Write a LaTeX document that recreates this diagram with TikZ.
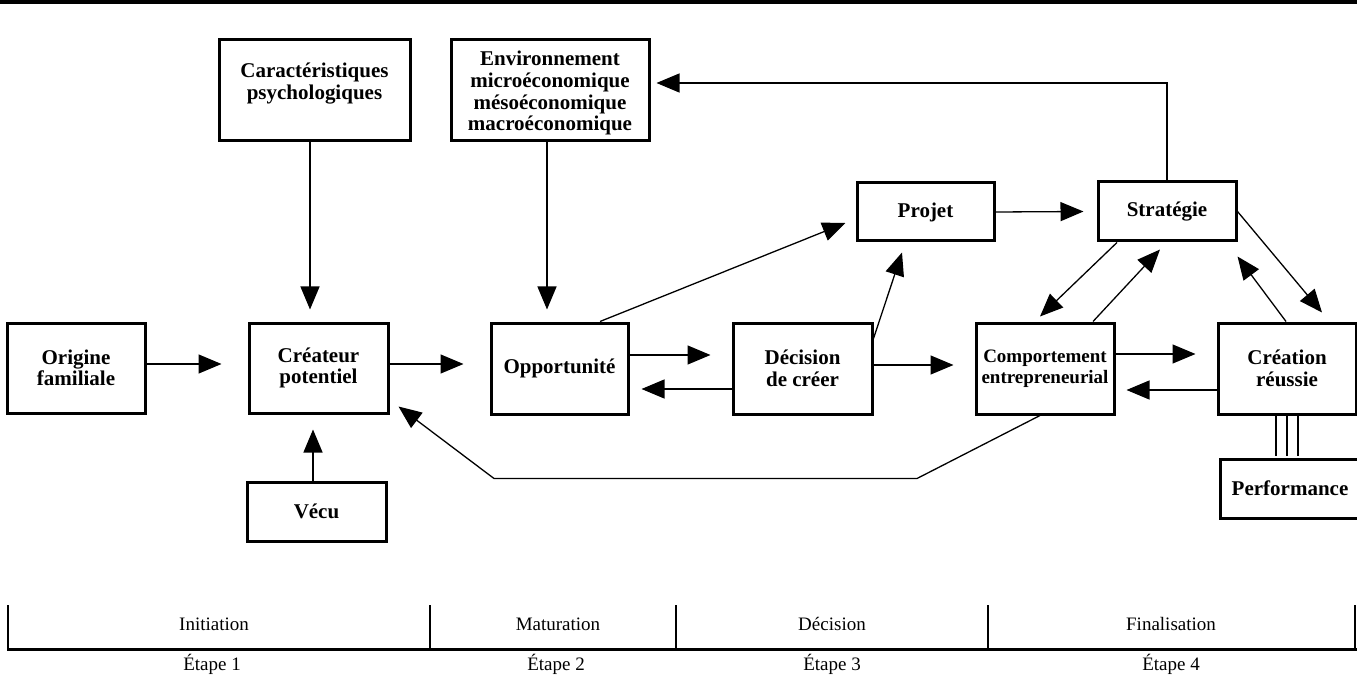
\documentclass[tikz,border=0pt]{standalone}
\usepackage{fontspec}
\setmainfont{Liberation Serif}
\usetikzlibrary{arrows.meta,calc}
\begin{document}
\begin{tikzpicture}[x=1pt,y=-1pt,
  box/.style={draw, line width=3pt, align=center, inner sep=0pt, font=\bfseries\fontsize{21}{21.6}\selectfont},
  arr/.style={line width=1.3pt, -{Triangle[length=23pt,width=19pt]}},
  lnk/.style={line width=1.3pt},
  lab/.style={font=\fontsize{19}{21}\selectfont, inner sep=0pt}]
\useasboundingbox (0,0) rectangle (1357,676);
% top rule
\draw[line width=4pt] (0,2.5) -- (1357,2.5);
% boxes
\node[box, minimum width=138pt, minimum height=90pt] (orig) at (76,368) {Origine\\familiale};
\node[box, minimum width=139pt, minimum height=90pt] (crea) at (318.5,368) {Créateur\\potentiel};
\node[box, minimum width=191pt, minimum height=101pt] (caract) at (314.5,90.5) {Caractéristiques\\psychologiques\rule[-18pt]{0pt}{0pt}};
\node[box, minimum width=198pt, minimum height=101pt] (env) at (550,90.5) {\rule{0pt}{20pt}Environnement\\microéconomique\\mésoéconomique\\macroéconomique};
\node[box, minimum width=137pt, minimum height=91pt] (opp) at (559.5,368.5) {Opportunité};
\node[box, minimum width=139pt, minimum height=91pt] (dec) at (802.5,368.5) {Décision\\de créer};
\node[box, minimum width=137pt, minimum height=58pt] (projet) at (925.5,212) {Projet};
\node[box, minimum width=138pt, minimum height=59pt] (strat) at (1167,211.5) {Stratégie};
\node[box, minimum width=138pt, minimum height=91pt, font=\bfseries\fontsize{19}{21}\selectfont] (comp) at (1045,368.5) {Comportement\\entrepreneurial};
\node[box, minimum width=138pt, minimum height=91pt] (creat) at (1287,368.5) {Création\\réussie};
\node[box, minimum width=139pt, minimum height=59pt] (vecu) at (316.5,511.5) {Vécu};
\node[box, minimum width=140pt, minimum height=59pt] (perf) at (1290,488.5) {Performance};
% connectors
\draw[arr] ($(caract.south)+(-4.5,0)$) -- ($(crea.north)+(-8.5,-12)$);
\draw[arr] ($(env.south)+(-3,0)$) -- ($(opp.north)+(-12.5,-12)$);
\draw[arr] ($(orig.east)+(0,-4)$) -- ($(crea.west)+(-26,-4)$);
\draw[arr] ($(crea.east)+(0,-4)$) -- ($(opp.west)+(-26,-4.5)$);
\draw[arr] ($(opp.east)+(0,-13.5)$) -- ($(dec.west)+(-21,-13.5)$);
\draw[arr] ($(dec.west)+(0,20.5)$) -- ($(opp.east)+(12,20.5)$);
\draw[arr] ($(dec.east)+(0,-3.5)$) -- ($(comp.west)+(-21,-3.5)$);
\draw[arr] ($(comp.east)+(0,-14.5)$) -- ($(creat.west)+(-21,-14.5)$);
\draw[arr] ($(creat.west)+(0,21.5)$) -- ($(comp.east)+(11,21.5)$);
\draw[arr] ($(vecu.north)+(-3.5,0)$) -- ($(crea.south)+(-5.5,15)$);
\draw[arr] ($(opp.north)+(40.5,0)$) -- ($(projet.west)+(-10,11)$);
\draw[arr] ($(dec.north east)+(0,17)$) -- ($(projet.south)+(-23.5,10)$);
\draw[arr] (projet.east) -- ($(strat.west)+(-13,0)$);
\draw[arr] ($(strat.south)+(-50,0)$) -- ($(comp.north)+(-5,-5)$);
\draw[arr] ($(comp.north)+(48,0)$) -- ($(strat.south)+(-7,7)$);
\draw[arr] (strat.east) -- ($(creat.north)+(35,-9)$);
\draw[arr] ($(creat.north)+(-1,0)$) -- ($(strat.south east)+(0,14)$);
\draw[arr] (strat.north) |- ($(env.east)+(6,-7.5)$);
\draw[arr] ($(comp.south)+(-5,0)$) -- ($(comp.south)+(-128,63)$) -- ($(opp.south)+(-65.5,63)$) -- ($(crea.south east)+(9,-8)$);
\foreach \dx in {-11,0,11} \draw[lnk] ($(creat.south)+(\dx,0)$) -- ++(0,40);
% timeline
\draw[line width=3pt] (7,649) -- (1357,649);
\foreach \x in {8,430,676,988,1355} \draw[line width=1.3pt] (\x,605) -- (\x,649);
\node[lab] (p1) at (214,624) {Initiation};
\node[lab] (p2) at (558,624) {Maturation};
\node[lab] (p3) at (832,624) {Décision};
\node[lab] (p4) at (1171,624) {Finalisation};
\node[lab] (e1) at (212,664) {Étape 1};
\node[lab] (e2) at (556,664) {Étape 2};
\node[lab] (e3) at (832,664) {Étape 3};
\node[lab] (e4) at (1171,664) {Étape 4};
\end{tikzpicture}
\end{document}
